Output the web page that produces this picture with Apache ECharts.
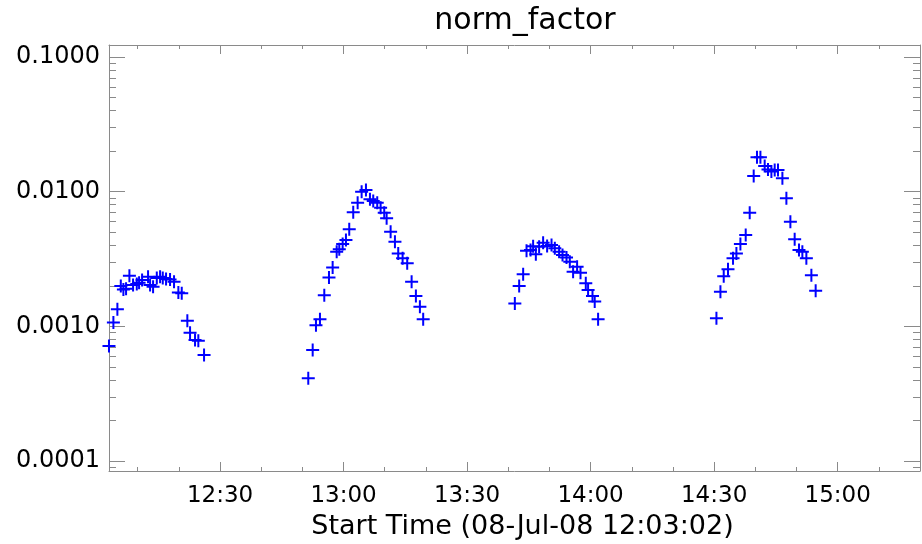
<!DOCTYPE html>
<html><head><meta charset="utf-8">
<script src="https://cdn.jsdelivr.net/npm/echarts@6/dist/echarts.min.js"></script>
<style>html,body{margin:0;padding:0;background:#fff}#c{width:922px;height:544px}</style>
</head><body><div id="c"></div>
<script>
const titleText = 'norm_factor';
const xAxisTitle = 'Start Time (08-Jul-08 12:03:02)';
// times in minutes after 12:00:00
const pass1Time = [3.03,4.10,5.07,5.90,6.53,7.18,7.99,8.88,9.78,10.34,11.07,12.52,13.01,13.74,14.64,15.44,16.09,16.89,17.86,18.83,19.88,20.70,22.06,22.72,23.93,24.73,26.12];
const pass1Value = [7.15e-4,1.07e-3,1.34e-3,1.99e-3,1.88e-3,1.90e-3,2.38e-3,2.03e-3,2.06e-3,2.11e-3,2.21e-3,2.33e-3,2.03e-3,1.97e-3,2.29e-3,2.33e-3,2.29e-3,2.25e-3,2.23e-3,2.14e-3,1.78e-3,1.76e-3,1.10e-3,8.96e-4,7.91e-4,7.82e-4,6.12e-4];
const pass2Time = [51.43,52.50,53.30,54.27,55.32,56.46,57.35,58.33,58.96,59.78,60.58,61.38,62.35,63.42,64.39,65.44,66.41,67.21,68.18,69.00,69.88,70.46,71.43,72.48,73.28,74.34,75.46,76.53,77.57,78.54,79.34];
const pass2Value = [4.11e-4,6.67e-4,1.02e-3,1.13e-3,1.70e-3,2.31e-3,2.74e-3,3.58e-3,3.73e-3,4.09e-3,4.38e-3,5.25e-3,7.03e-3,8.28e-3,1.00e-2,1.03e-2,8.77e-3,8.51e-3,8.27e-3,7.60e-3,6.98e-3,6.34e-3,5.04e-3,4.25e-3,3.48e-3,3.20e-3,2.94e-3,2.14e-3,1.68e-3,1.40e-3,1.13e-3];
const pass3Time = [101.60,102.65,103.62,104.44,105.41,106.04,106.70,107.50,108.47,109.44,110.51,111.31,112.35,113.18,114.15,114.95,115.75,116.72,117.55,118.83,119.39,120.46,121.00,121.82];
const pass3Value = [1.48e-3,1.99e-3,2.44e-3,3.64e-3,3.69e-3,3.94e-3,3.43e-3,3.90e-3,4.18e-3,3.95e-3,4.02e-3,3.80e-3,3.58e-3,3.38e-3,3.25e-3,3.02e-3,2.54e-3,2.77e-3,2.50e-3,2.09e-3,1.86e-3,1.68e-3,1.53e-3,1.13e-3];
const pass4Time = [150.56,151.53,152.33,153.37,154.59,155.41,156.38,157.67,158.64,159.61,160.41,161.24,162.28,163.08,163.91,164.71,165.51,166.58,167.55,168.52,169.56,170.61,171.43,172.40,173.62,174.66];
const pass4Value = [1.15e-3,1.81e-3,2.36e-3,2.65e-3,3.20e-3,3.48e-3,4.08e-3,4.76e-3,6.98e-3,1.31e-2,1.80e-2,1.80e-2,1.55e-2,1.46e-2,1.41e-2,1.45e-2,1.45e-2,1.26e-2,8.92e-3,5.98e-3,4.43e-3,3.69e-3,3.58e-3,3.20e-3,2.40e-3,1.84e-3];

const xMajorTicks = [30,60,90,120,150,180];
const xMajorLabels = ['12:30','13:00','13:30','14:00','14:30','15:00'];
const xMinorTicks = [10,20,40,50,70,80,100,110,130,140,160,170,190];
const yMajorTicks = [0.0001,0.001,0.01,0.1];
const yMajorLabels = ['0.0001','0.0010','0.0100','0.1000'];
const yMinorTicks = [0.00009,0.0002,0.0003,0.0004,0.0005,0.0006,0.0007,0.0008,0.0009,0.002,0.003,0.004,0.005,0.006,0.007,0.008,0.009,0.02,0.03,0.04,0.05,0.06,0.07,0.08,0.09];

const X_MIN = 3.0333, X_MAX = 200;
const Y_MIN = 8.43e-5, Y_MAX = 0.1228;
const FONT = 'DejaVu Sans';
const AX = '#8a8a8a';

const data = [];
[[pass1Time,pass1Value],[pass2Time,pass2Value],[pass3Time,pass3Value],[pass4Time,pass4Value]].forEach(([t,v]) => {
  t.forEach((x,i) => data.push([x, v[i]]));
});

function xAxisDef(pos, ticks, len, main) {
  return {
    type: 'value', position: pos, min: X_MIN, max: X_MAX,
    axisLine: {show: main, onZero: false, lineStyle: {color: AX, width: 1}},
    axisTick: {show: true, inside: true, length: len, customValues: ticks, lineStyle: {color: AX, width: 1}},
    axisLabel: main && pos === 'bottom' ? {
      show: true, customValues: xMajorTicks, margin: 14,
      formatter: v => { const i = xMajorTicks.indexOf(v); return i >= 0 ? xMajorLabels[i] : ''; },
      color: '#000', fontFamily: FONT, fontSize: 23
    } : {show: false},
    splitLine: {show: false}, minorTick: {show: false}
  };
}
function yAxisDef(pos, ticks, len, main) {
  return {
    type: 'log', logBase: 10, position: pos, min: Y_MIN, max: Y_MAX,
    axisLine: {show: main, onZero: false, lineStyle: {color: AX, width: 1}},
    axisTick: {show: true, inside: true, length: len, customValues: ticks, lineStyle: {color: AX, width: 1}},
    axisLabel: main && pos === 'left' ? {
      show: true, customValues: yMajorTicks, margin: 9,
      formatter: v => { const i = yMajorTicks.findIndex(t => Math.abs(t - v) / t < 1e-6); return i >= 0 ? yMajorLabels[i] : ''; },
      color: '#000', fontFamily: FONT, fontSize: 24
    } : {show: false},
    splitLine: {show: false}, minorTick: {show: false}
  };
}

const xAxes = [
  xAxisDef('bottom', xMajorTicks, 9, true),
  xAxisDef('bottom', xMinorTicks, 4, false),
  xAxisDef('top', xMajorTicks, 9, true),
  xAxisDef('top', xMinorTicks, 4, false)
];
xAxes[0].name = xAxisTitle;
xAxes[0].nameLocation = 'middle';
xAxes[0].nameGap = 42;
xAxes[0].nameTextStyle = {color: '#000', fontFamily: FONT, fontSize: 27, padding: [0,0,0,16]};

const yAxes = [
  yAxisDef('left', yMajorTicks, 16, true),
  yAxisDef('left', yMinorTicks, 7, false),
  yAxisDef('right', yMajorTicks, 16, true),
  yAxisDef('right', yMinorTicks, 7, false)
];

const chart = echarts.init(document.getElementById('c'), null, {renderer: 'canvas'});
chart.setOption({
  animation: false,
  backgroundColor: '#fff',
  title: {text: titleText, left: 520, textAlign: 'center', top: 1,
    textStyle: {fontFamily: FONT, fontSize: 30, fontWeight: 'normal', color: '#000'}},
  grid: {left: 109, right: 2, top: 45, bottom: 73, containLabel: false, outerBoundsMode: 'none'},
  xAxis: xAxes,
  yAxis: yAxes,
  series: [{
    type: 'scatter', xAxisIndex: 0, yAxisIndex: 0, data: data,
    symbol: 'path://M5.5,0H7.5V5.5H13V7.5H7.5V13H5.5V7.5H0V5.5H5.5Z',
    symbolSize: 13,
    itemStyle: {color: '#0000ff', opacity: 1},
    clip: true
  }]
});
</script></body></html>
